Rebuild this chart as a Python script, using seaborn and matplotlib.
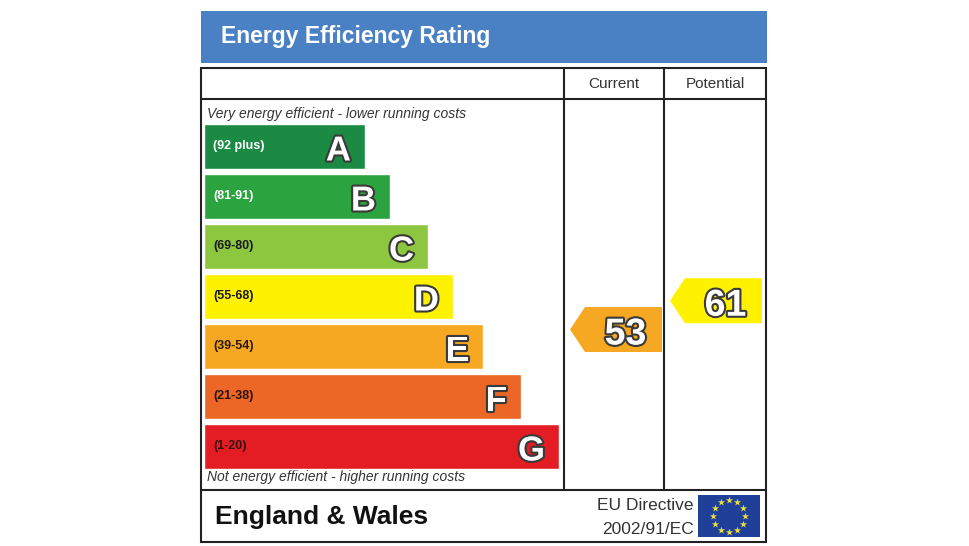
import numpy as np
import pandas as pd
import matplotlib
matplotlib.use("Agg")
import matplotlib.pyplot as plt
import matplotlib.patheffects as pe
from matplotlib.patches import Rectangle, Polygon
import seaborn as sns

# rating bands, top (best) to bottom (worst)
bands = ["A", "B", "C", "D", "E", "F", "G"]
ranges = ["(92 plus)", "(81-91)", "(69-80)", "(55-68)", "(39-54)", "(21-38)", "(1-20)"]
band_low = [92, 81, 69, 55, 39, 21, 1]
band_high = [100, 91, 80, 68, 54, 38, 20]
bar_length = [161, 186, 224, 249, 279, 317, 355]
band_colors = ["#1b8a42", "#2ba33f", "#8dc63f", "#fff200", "#f7a823", "#ec6625", "#e31d23"]
range_text_colors = ["white", "white", "#1a1a1a", "#1a1a1a", "#2a1a0a", "#2a140a", "#3a1010"]

current_score = 53
potential_score = 61

W, H = 970, 546
line_c = "#222222"
lw = 1.5


def score_to_y(score):
    # position of the pointer inside its band (category units)
    for i, (lo, hi) in enumerate(zip(band_low, band_high)):
        if lo <= score <= hi:
            frac = (score - lo) / (hi - lo)
            return i + 0.5 - frac * 0.9
    return 0


def band_of(score):
    for i, (lo, hi) in enumerate(zip(band_low, band_high)):
        if lo <= score <= hi:
            return i
    return 0


def pointer(ax, x0, x1, score, label):
    yc = score_to_y(score)
    h = 0.45
    pts = [(x0, yc), (x0 + 15, yc - h), (x1, yc - h), (x1, yc + h), (x0 + 15, yc + h)]
    ax.add_patch(Polygon(pts, closed=True, facecolor=band_colors[band_of(score)],
                         edgecolor="none", zorder=3))
    ax.text((x0 + 15 + x1) / 2 + 2, yc + 0.02, label, ha="center", va="center_baseline",
            fontsize=27, fontweight="bold", color="white", zorder=4,
            path_effects=[pe.withStroke(linewidth=3, foreground="#3a3a3a")])


def main():
    sns.set_style("white")
    plt.rcParams["font.family"] = ["Liberation Sans", "DejaVu Sans"]

    fig = plt.figure(figsize=(W / 100, H / 100), dpi=100)

    # background canvas in pixel units
    canvas = fig.add_axes([0, 0, 1, 1])
    canvas.set_xlim(0, W)
    canvas.set_ylim(H, 0)
    canvas.axis("off")

    canvas.add_patch(Rectangle((201, 11), 566, 52, facecolor="#4a81c4", edgecolor="none"))
    canvas.text(221, 37, "Energy Efficiency Rating", color="white", fontsize=16.5,
                fontweight="bold", va="center", ha="left")

    canvas.add_patch(Rectangle((201, 68), 565, 474, facecolor="none", edgecolor=line_c, lw=lw))
    canvas.plot([201, 766], [99, 99], color=line_c, lw=lw)
    canvas.plot([201, 766], [490, 490], color=line_c, lw=lw)
    canvas.plot([564, 564], [68, 490], color=line_c, lw=lw)
    canvas.plot([664, 664], [68, 490], color=line_c, lw=lw)

    canvas.text(614, 84, "Current", ha="center", va="center", fontsize=11, color="#333333")
    canvas.text(715, 84, "Potential", ha="center", va="center", fontsize=11, color="#333333")

    canvas.text(207, 114, "Very energy efficient - lower running costs", ha="left", va="center",
                fontsize=10, style="italic", color="#333333")
    canvas.text(207, 477, "Not energy efficient - higher running costs", ha="left", va="center",
                fontsize=10, style="italic", color="#333333")

    canvas.text(215, 517, "England & Wales", ha="left", va="center", fontsize=19,
                fontweight="bold", color="#111111")
    canvas.text(694, 506, "EU Directive", ha="right", va="center", fontsize=12.5, color="#333333")
    canvas.text(694, 529, "2002/91/EC", ha="right", va="center", fontsize=12.5, color="#333333")

    # EU flag
    canvas.add_patch(Rectangle((698, 495), 62, 42, facecolor="#1f3f99", edgecolor="none"))
    ang = np.linspace(0, 2 * np.pi, 12, endpoint=False)
    canvas.scatter(729 + 16 * np.cos(ang), 516 + 16 * np.sin(ang), marker="*", s=30,
                   color="#e8e040", linewidths=0, zorder=3)

    # rating bars
    df = pd.DataFrame({"band": bands, "length": bar_length})
    ax = fig.add_axes([204 / W, (H - 471.5) / H, (766 - 204) / W, 350 / H])
    ax.patch.set_alpha(0)
    sns.barplot(data=df, x="length", y="band", hue="band", palette=band_colors,
                orient="h", width=0.9, legend=False, ax=ax, saturation=1)
    ax.set_xlim(0, 562)
    ax.set_ylim(6.5, -0.5)
    ax.axis("off")

    for i, (b, r, L) in enumerate(zip(bands, ranges, bar_length)):
        ax.text(9, i, r, ha="left", va="center", fontsize=9, fontweight="bold",
                color=range_text_colors[i])
        ax.text(L - 14, i + 0.02, b, ha="right", va="center_baseline", fontsize=25,
                fontweight="bold", color="white",
                path_effects=[pe.withStroke(linewidth=3, foreground="#3a3a3a")])

    pointer(ax, 366, 458, current_score, str(current_score))
    pointer(ax, 466, 558, potential_score, str(potential_score))

    fig.savefig("out.png", dpi=100)


if __name__ == "__main__":
    main()
